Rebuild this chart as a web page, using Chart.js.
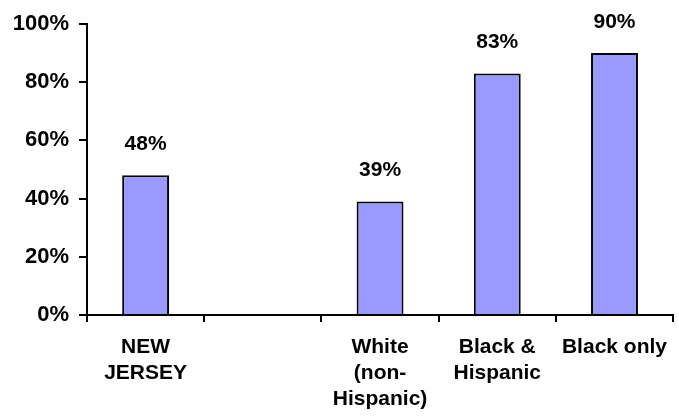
<!DOCTYPE html>
<html lang="en">
<head>
    <meta charset="UTF-8">
    <title>New Jersey chart</title>
    <script src="https://cdn.jsdelivr.net/npm/chart.js"></script>
    <style>
        html, body { margin: 0; padding: 0; background: #fff; }
        #wrap { width: 679px; height: 419px; }
    </style>
</head>
<body>
    <div id="wrap"><canvas id="chart" width="679" height="419"></canvas></div>

    <script>
        // data
        const categories = [['NEW', 'JERSEY'], '', ['White', '(non-', 'Hispanic)'], ['Black &', 'Hispanic'], 'Black only'];
        const percentValues = [48, null, 39, 83, 90];
        const yTicks = [0, 20, 40, 60, 80, 100];

        const fontFamily = "'Liberation Sans', Arial, sans-serif";

        const valueLabels = {
            id: 'valueLabels',
            afterDatasetsDraw(chart) {
                const ctx = chart.ctx;
                const meta = chart.getDatasetMeta(0);
                ctx.save();
                ctx.font = 'bold 21px ' + fontFamily;
                ctx.fillStyle = '#000';
                ctx.textAlign = 'center';
                ctx.textBaseline = 'middle';
                meta.data.forEach((bar, i) => {
                    const v = percentValues[i];
                    if (v == null) return;
                    ctx.fillText(v + '%', bar.x, bar.y - 31);
                });
                ctx.restore();
            }
        };

        new Chart(document.getElementById('chart'), {
            type: 'bar',
            data: {
                labels: categories,
                datasets: [{
                    data: percentValues,
                    backgroundColor: '#9999ff',
                    borderColor: '#000',
                    borderWidth: 2,
                    barPercentage: 0.4,
                    categoryPercentage: 1
                }]
            },
            options: {
                responsive: false,
                animation: false,
                layout: { padding: { top: 24, left: 0, right: 0, bottom: 0 } },
                plugins: { legend: { display: false }, tooltip: { enabled: false } },
                scales: {
                    x: {
                        afterFit(s) { s.height = 104; },
                        grid: { drawOnChartArea: false, color: '#000', lineWidth: 2, tickLength: 7 },
                        border: { color: '#000', width: 2 },
                        ticks: {
                            color: '#000',
                            font: { family: fontFamily, size: 21, weight: 'bold', lineHeight: 1.25 },
                            padding: 12, maxRotation: 0, autoSkip: false
                        }
                    },
                    y: {
                        min: 0,
                        max: 100,
                        afterFit(s) { s.width = 87; },
                        afterBuildTicks(s) { s.ticks = yTicks.map(v => ({ value: v })); },
                        grid: { drawOnChartArea: false, color: '#000', lineWidth: 2, tickLength: 8 },
                        border: { color: '#000', width: 2 },
                        ticks: {
                            color: '#000',
                            font: { family: fontFamily, size: 22, weight: 'bold' },
                            padding: 10, callback: v => v + '%'
                        }
                    }
                }
            },
            plugins: [valueLabels]
        });
    </script>
</body>
</html>
